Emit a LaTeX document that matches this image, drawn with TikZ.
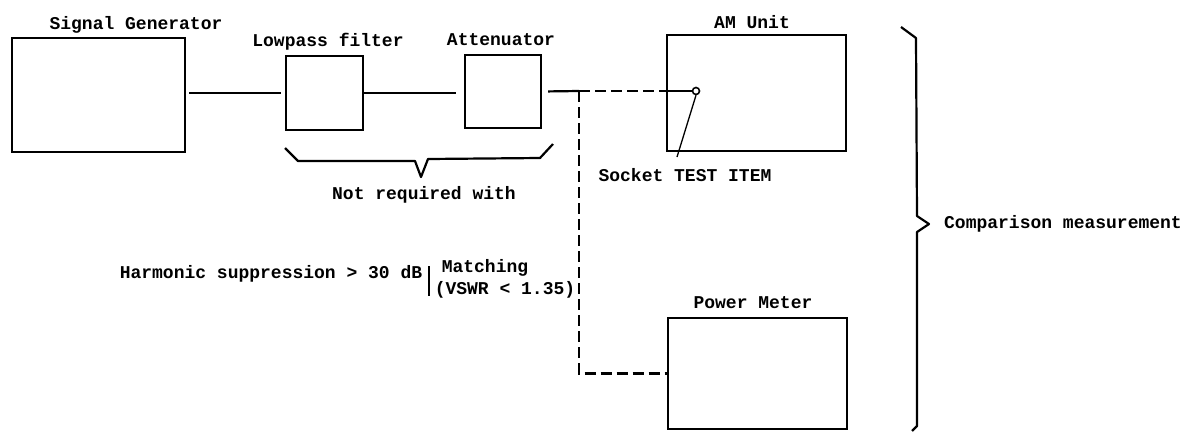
\documentclass[tikz,border=0pt]{standalone}
\usepackage{fontspec}
\setmonofont{Liberation Mono}
\usetikzlibrary{positioning}

\begin{document}
\begin{tikzpicture}[x=1pt, y=-1pt,
    unit/.style={draw, line width=2.4pt, inner sep=0pt},
    lbl/.style={font=\fontsize{18}{20}\selectfont\ttfamily\bfseries, inner sep=0pt},
    wire/.style={line width=2.2pt},
    dwire/.style={line width=2.2pt, dash pattern=on 11pt off 5pt},
    socket/.style={draw, circle, line width=1.6pt, minimum size=7pt, inner sep=0pt}]
    \useasboundingbox (0,0) rectangle (1192,432);

    \node[unit, minimum width=173pt, minimum height=114pt] (sg) at (98.5,95) {};
    \node[unit, minimum width=77pt, minimum height=74pt] (lp) at (324.5,93) {};
    \node[unit, minimum width=76pt, minimum height=73pt] (att) at (503,91.5) {};
    \node[unit, minimum width=179pt, minimum height=116pt] (am) at (756.5,93) {};
    \node[unit, minimum width=179pt, minimum height=111pt] (pm) at (757.5,373.5) {};

    \node[lbl] (sgl) at (136,25) {Signal Generator};
    \node[lbl] (lpl) at (328,42) {Lowpass filter};
    \node[lbl] (attl) at (501,40) {Attenuator};
    \node[lbl] (aml) at (752,22) {AM Unit};
    \node[lbl] (pml) at (753,303) {Power Meter};
    \node[lbl] (sockl) at (685,175) {Socket TEST ITEM};
    \node[lbl] (notreq) at (424,195) {Not required with};
    \node[lbl] (harm) at (271,274) {Harmonic suppression > 30 dB};
    \node[lbl] (match) at (485,268) {Matching};
    \node[lbl] (vswr) at (505,290) {(VSWR < 1.35)};
    \node[lbl] (comp) at (1063,224) {Comparison measurement};

    \node[socket] (sock) at (696,91) {};
    \coordinate (split) at (579,91);
    \coordinate (lead) at (677,157);

    \draw[wire, shorten <=3pt, shorten >=4pt] (sg.east |- lp) -- (lp.west);
    \draw[wire, shorten >=8pt] (lp.east) -- (att.west |- lp);
    \draw[wire, shorten <=6pt] (att.east) -- (split);
    \draw[dwire] (split) -- (am.west |- split);
    \draw[wire] (am.west |- sock) -- (sock.west);
    \draw[line width=1.3pt] (sock.south) -- (lead);
    \draw[dwire] (split) -- (split |- pm.west) -- (pm.west);

    \draw[line width=1.8pt] (429,266) -- (429,296);
    \draw[line width=2.2pt, line join=round] (285,148) -- (298,161) -- (415,161) -- (421,177) -- (428,159) -- (540,158) -- (553,144);
    \draw[line width=2.2pt, line join=round] (901,27) -- (916,38) -- (917,216) -- (929,224) -- (917,232) -- (917,426) -- (912,431);
\end{tikzpicture}
\end{document}
